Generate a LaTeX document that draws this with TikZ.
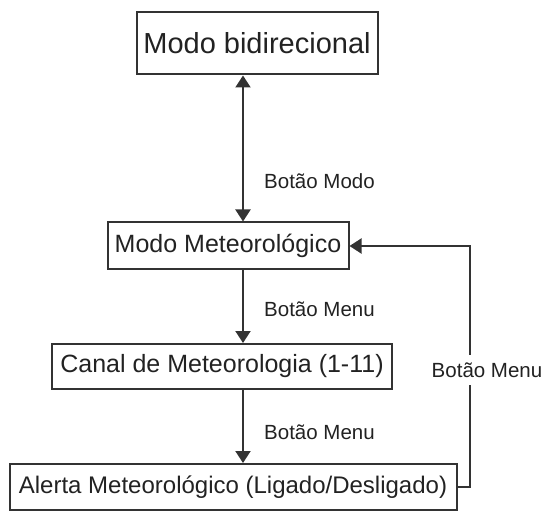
\documentclass[tikz,border=0pt]{standalone}
\usepackage{fontspec}
\setmainfont{Liberation Sans}
\usetikzlibrary{arrows.meta}
\definecolor{linegray}{HTML}{333333}
\definecolor{textgray}{HTML}{222222}
\begin{document}
\begin{tikzpicture}[x=1pt,y=-1pt,
    caixa/.style={draw=linegray,line width=2pt,text=textgray,inner sep=0pt,font=\fontsize{25}{30}\selectfont},
    rotulo/.style={text=textgray,inner sep=2pt,font=\fontsize{20.5}{24}\selectfont},
    seta/.style={draw=linegray,line width=2pt,-{Triangle[length=12pt,width=15pt]}}]
    \useasboundingbox (0,0) rectangle (548,518);
    \node[caixa,minimum width=241,minimum height=62,font=\fontsize{29}{34}\selectfont] (bidir) at (257,43.5) {Modo bidirecional};
    \node[caixa,minimum width=241,minimum height=47] (meteo) at (228,246) {Modo Meteorológico};
    \node[caixa,minimum width=340,minimum height=45] (canal) at (222,366.5) {Canal de Meteorologia (1-11)};
    \node[caixa,minimum width=447,minimum height=46,font=\fontsize{24}{29}\selectfont] (alerta) at (233,487) {Alerta Meteorológico (Ligado/Desligado)};
    \coordinate (eixo) at (243,0);
    % setas verticais
    \draw[seta,{Triangle[length=12pt,width=15pt]}-{Triangle[length=12pt,width=15pt]}] (eixo |- bidir.south) -- (eixo |- meteo.north);
    \draw[seta] (eixo |- meteo.south) -- (eixo |- canal.north);
    \draw[seta] (eixo |- canal.south) -- (eixo |- alerta.north);
    % retorno
    \draw[seta] (alerta.east) -- ++(12,0) |- (meteo.east);
    \node[rotulo,anchor=west] (bmodo) at (262,181) {Botão Modo};
    \node[rotulo,anchor=west] (bmenu1) at (262,309) {Botão Menu};
    \node[rotulo,anchor=west] (bmenu2) at (262,432) {Botão Menu};
    \node[rotulo,fill=white,inner ysep=8pt] (bmenu3) at (487,370) {Botão Menu};
\end{tikzpicture}
\end{document}
